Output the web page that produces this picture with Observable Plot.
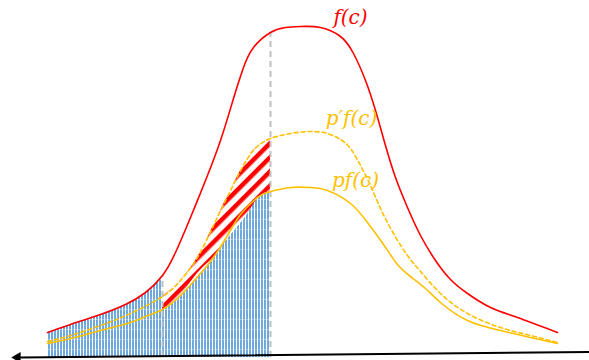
<!DOCTYPE html>
<html>
<head>
<meta charset="utf-8">
<script src="https://cdn.jsdelivr.net/npm/d3@7"></script>
<script src="https://cdn.jsdelivr.net/npm/@observablehq/plot@0.6"></script>
<style>
  body { margin: 0; background: #fff; }
  #chart svg { display: block; }
</style>
</head>
<body>
<div id="chart"></div>
<script>
// Curves: x position, h height above the bottom
const fCurve = [
  {x:47,h:28},{x:70,h:36},{x:100,h:46},{x:125,h:56},{x:145,h:68},{x:162,h:85},
  {x:175,h:108},{x:190,h:143},{x:205,h:180},{x:220,h:220},{x:233,h:262},{x:243,h:293},
  {x:253,h:313},{x:270,h:328},{x:285,h:333},{x:300,h:334},{x:320,h:333},{x:340,h:324},
  {x:353,h:307},{x:365,h:280},{x:375,h:250},{x:385,h:215},{x:395,h:183},{x:407,h:153},
  {x:420,h:125},{x:435,h:100},{x:450,h:81},{x:467,h:67},{x:490,h:53},{x:517,h:43},{x:557,h:28}
];
const pPrimeCurve = [
  {x:47,h:19},{x:70,h:25},{x:100,h:35},{x:130,h:47},{x:162,h:64},{x:180,h:80},
  {x:197,h:103},{x:213,h:135},{x:230,h:170},{x:247,h:202},{x:258,h:215},{x:270,h:222},
  {x:290,h:227},{x:310,h:229},{x:327,h:227},{x:340,h:221},{x:350,h:212},{x:360,h:195},
  {x:370,h:175},{x:380,h:152},{x:393,h:127},{x:407,h:105},{x:420,h:89},{x:440,h:67},
  {x:467,h:47},{x:500,h:33},{x:530,h:25},{x:557,h:18}
];
const pCurve = [
  {x:47,h:17},{x:70,h:22},{x:100,h:30},{x:130,h:38},{x:145,h:44},{x:162,h:51},{x:180,h:65},
  {x:200,h:87},{x:213,h:103},{x:227,h:125},{x:240,h:146},{x:257,h:163},{x:270,h:169},
  {x:290,h:173},{x:310,h:173},{x:327,h:170},{x:350,h:157},{x:367,h:138},{x:383,h:116},
  {x:397,h:96},{x:410,h:84},{x:425,h:72},{x:440,h:58},{x:467,h:40},{x:500,h:30},{x:530,h:23},{x:557,h:17}
];
const cutLeft = 162, cutRight = 270;
const baseH = 3;
const labels = [
  {x:350,h:343,text:"f(c)",color:"#ff0000"},
  {x:351,h:242,text:"p\u2032f(c)",color:"#ffc000"},
  {x:355,h:180,text:"pf(c)",color:"#ffc000"}
];
const axisLine = [{x:589,h:8.5},{x:20,h:3}];
const axisHead = [{x:17,h:3}];

const blueLeft = fCurve.filter(d => d.x <= cutLeft);
const blueRight = pCurve.filter(d => d.x >= cutLeft && d.x <= cutRight);
const stripeHi = pPrimeCurve.filter(d => d.x >= cutLeft && d.x <= cutRight);
const stripeLo = pCurve.filter(d => d.x >= cutLeft && d.x <= cutRight);
const stripeBand = stripeHi.map((d, i) => ({x: d.x, hi: d.h, lo: stripeLo[i].h}));

const cuts = [
  {x: cutLeft, top: fCurve.find(d => d.x === cutLeft).h},
  {x: cutRight, top: fCurve.find(d => d.x === cutRight).h}
];
const cv = "natural";

const svg = Plot.plot({
  width: 589, height: 360,
  margin: 0, marginTop: 0, marginBottom: 0, marginLeft: 0, marginRight: 0,
  x: {domain: [0, 589], axis: null},
  y: {domain: [0, 360], axis: null},
  style: {background: "#fff", overflow: "visible"},
  marks: [
    Plot.areaY(blueLeft, {x: "x", y1: baseH, y2: "h", fill: "url(#bluehatch)", curve: cv}),
    Plot.areaY(blueRight, {x: "x", y1: baseH, y2: "h", fill: "url(#bluehatch)", curve: cv}),
    Plot.areaY(stripeBand, {x: "x", y1: "lo", y2: "hi", fill: "url(#redstripes)", curve: cv}),
    Plot.ruleX(cuts, {x: "x", y1: baseH, y2: "top", stroke: "#c0c0c0", strokeWidth: 2, strokeDasharray: "6,4"}),
    Plot.line(fCurve, {x: "x", y: "h", stroke: "#ff0000", strokeWidth: 1.6, curve: cv}),
    Plot.line(pPrimeCurve, {x: "x", y: "h", stroke: "#ffc000", strokeWidth: 1.6, strokeDasharray: "4,3", curve: cv}),
    Plot.line(pCurve, {x: "x", y: "h", stroke: "#ffc000", strokeWidth: 1.6, curve: cv}),
    Plot.line(axisLine, {x: "x", y: "h", stroke: "#000", strokeWidth: 2}),
    Plot.dot(axisHead, {x: "x", y: "h", symbol: "triangle", r: 4, fill: "#000", stroke: null, rotate: -90}),
    Plot.text(labels, {x: "x", y: "h", text: "text", fill: "color", fontSize: 20,
      fontFamily: "DejaVu Serif", fontStyle: "italic", textAnchor: "middle"})
  ]
});

svg.insertAdjacentHTML("afterbegin", `
<defs>
  <pattern id="bluehatch" patternUnits="userSpaceOnUse" width="3" height="10">
    <rect x="0" y="0" width="3" height="10" fill="#ffffff"/>
    <rect x="0" y="0" width="2" height="10" fill="#6fa8dc"/>
    <rect x="0" y="9" width="3" height="1" fill="#ffffff" fill-opacity="0.35"/>
  </pattern>
  <pattern id="redstripes" patternUnits="userSpaceOnUse" width="10" height="10" patternTransform="rotate(-45)">
    <rect x="0" y="0" width="10" height="10" fill="#ffffff"/>
    <rect x="0" y="0" width="10" height="4.5" fill="#ff0000"/>
  </pattern>
</defs>`);

document.getElementById("chart").appendChild(svg);
</script>
</body>
</html>
